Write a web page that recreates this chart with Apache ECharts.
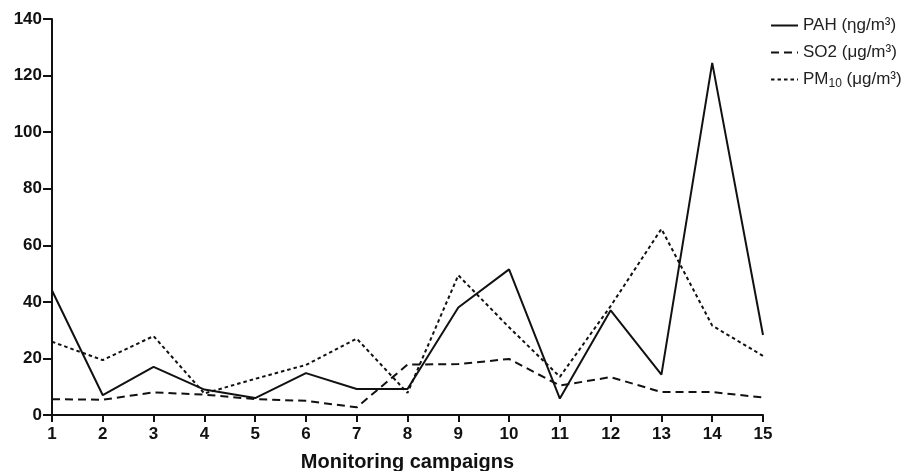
<!DOCTYPE html>
<html>
<head>
<meta charset="utf-8">
<script src="https://cdn.jsdelivr.net/npm/echarts@6/dist/echarts.min.js"></script>
<style>html,body{margin:0;padding:0;background:#fff}#c{width:918px;height:471px}</style>
</head>
<body>
<div id="c"></div>
<script>
const categories = ['1','2','3','4','5','6','7','8','9','10','11','12','13','14','15'];
const pah  = [44, 7, 17, 9, 6, 14.8, 9.2, 9.2, 38, 51.5, 5.8, 37, 14.3, 124.5, 28.3];
const so2  = [5.6, 5.4, 8, 7.2, 5.6, 5, 2.7, 17.8, 18, 19.8, 10.4, 13.4, 8.1, 8.1, 6.2];
const pm10 = [25.9, 19.4, 27.9, 7.6, 12.8, 17.7, 27, 7.8, 49.4, 31, 13.5, 38.5, 65.8, 31.6, 20.9];
const yTicks = {min: 0, max: 140, interval: 20};
const names = ['PAH (ηg/m³)', 'SO2 (μg/m³)', 'PM10 (μg/m³)'];

const chart = echarts.init(document.getElementById('c'));
const font = 'Liberation Sans, Arial, sans-serif';
function mk(name, data, type, width) {
  return {
    name, type: 'line', data, symbol: 'none', silent: true,
    lineStyle: {color: '#111', width, type},
    itemStyle: {color: '#111'}
  };
}
chart.setOption({
  animation: false,
  grid: {left: 52, right: 155, top: 19, bottom: 56, outerBoundsMode: 'none', containLabel: false},
  legend: {
    orient: 'vertical', left: 765, top: 12, itemGap: 10,
    itemWidth: 27, itemHeight: 18,
    data: names,
    itemStyle: {opacity: 0},
    textStyle: {fontFamily: font, fontSize: 17, color: '#222',
      rich: {
        a: {fontFamily: font, fontSize: 17, color: '#222'},
        s: {fontFamily: font, fontSize: 12, color: '#222', verticalAlign: 'bottom', padding: [8, 0, 0, 0]}
      }},
    formatter: function (n) {
      if (n.indexOf('PM10') === 0) return '{a|PM}{s|10}{a| (μg/m³)}';
      return '{a|' + n + '}';
    }
  },
  xAxis: {
    type: 'category', data: categories, boundaryGap: false,
    name: 'Monitoring campaigns', nameLocation: 'middle', nameGap: 37,
    nameTextStyle: {fontFamily: font, fontSize: 20, fontWeight: 'bold', color: '#111'},
    axisLine: {lineStyle: {color: '#111', width: 2}},
    axisTick: {length: 7, lineStyle: {color: '#111', width: 2}, alignWithLabel: true},
    axisLabel: {fontFamily: font, fontSize: 17, fontWeight: 'bold', color: '#111', margin: 11},
    splitLine: {show: false}
  },
  yAxis: {
    type: 'value', min: yTicks.min, max: yTicks.max, interval: yTicks.interval,
    axisLine: {show: true, lineStyle: {color: '#111', width: 2}},
    axisTick: {show: true, length: 9, lineStyle: {color: '#111', width: 2}},
    axisLabel: {fontFamily: font, fontSize: 17, fontWeight: 'bold', color: '#111', margin: 10},
    splitLine: {show: false}
  },
  series: [
    mk(names[0], pah, 'solid', 2),
    mk(names[1], so2, [8, 5], 2),
    mk(names[2], pm10, [3.5, 3], 2)
  ]
});
</script>
</body>
</html>
